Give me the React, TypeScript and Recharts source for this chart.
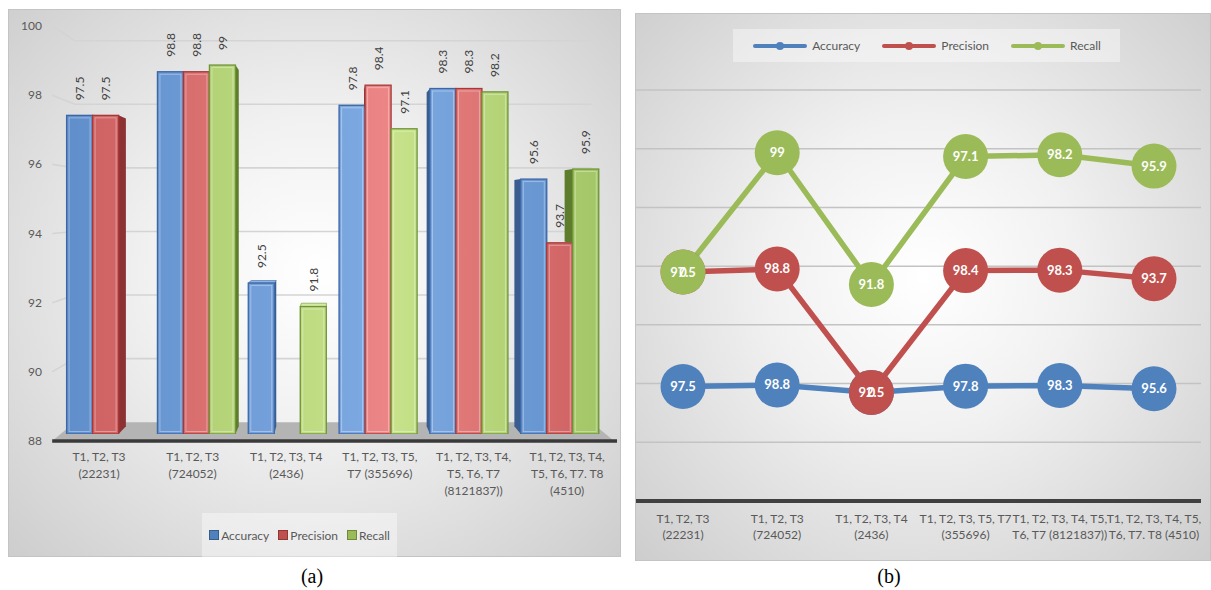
import React from 'react'
import {
  Bar,
  BarChart,
  CartesianGrid,
  LabelList,
  Legend,
  Line,
  LineChart,
  XAxis,
  YAxis,
} from 'recharts'

const categories = [
  'T1, T2, T3 (22231)',
  'T1, T2, T3 (724052)',
  'T1, T2, T3, T4 (2436)',
  'T1, T2, T3, T5, T7 (355696)',
  'T1, T2, T3, T4, T5, T6, T7 (8121837))',
  'T1, T2, T3, T4, T5, T6, T7. T8 (4510)',
]

const barTickLines = [
  ['T1, T2, T3', '(22231)'],
  ['T1, T2, T3', '(724052)'],
  ['T1, T2, T3, T4', '(2436)'],
  ['T1, T2, T3, T5,', 'T7 (355696)'],
  ['T1, T2, T3, T4,', 'T5, T6, T7', '(8121837))'],
  ['T1, T2, T3, T4,', 'T5, T6, T7. T8', '(4510)'],
]

const lineTickLines = [
  ['T1, T2, T3', '(22231)'],
  ['T1, T2, T3', '(724052)'],
  ['T1, T2, T3, T4', '(2436)'],
  ['T1, T2, T3, T5, T7', '(355696)'],
  ['T1, T2, T3, T4, T5,', 'T6, T7 (8121837))'],
  ['T1, T2, T3, T4, T5,', 'T6, T7. T8 (4510)'],
]

// 0 = no value for that split
const accuracy = [97.5, 98.8, 92.5, 97.8, 98.3, 95.6]
const precision = [97.5, 98.8, 0, 98.4, 98.3, 93.7]
const recall = [0, 99, 91.8, 97.1, 98.2, 95.9]

const barTicks = [88, 90, 92, 94, 96, 98, 100]
const lineTicks = [0, 50, 100, 150, 200, 250, 300, 350]

const seriesNames = ['Accuracy', 'Precision', 'Recall']
const seriesValues = [accuracy, precision, recall]

const FONT = 'Lato, "Open Sans", sans-serif'
const TEXT = '#595959'

const barData = categories.map((name, i) => ({
  name,
  Accuracy: accuracy[i] || null,
  Precision: precision[i] || null,
  Recall: recall[i] || null,
}))

const lineData = categories.map((name, i) => ({
  name,
  accStack: accuracy[i],
  precStack: accuracy[i] + precision[i],
  recStack: accuracy[i] + precision[i] + recall[i],
}))

const BAR_STYLE = [
  { edge: '#5f8ecb', mid: '#7eaae2', border: '#3b67a6', side: '#3a5d90', top: '#8fb5e6', key: '#4f81bd', keyBorder: '#385d8a' },
  { edge: '#cc5f5f', mid: '#ec8585', border: '#a63838', side: '#8c3232', top: '#f09a9a', key: '#c0504d', keyBorder: '#8c3836' },
  { edge: '#a2c566', mid: '#c8e38b', border: '#6e9435', side: '#5d7d2c', top: '#d4eaa0', key: '#9bbb59', keyBorder: '#71893f' },
]
const LINE_COLORS = ['#4f81bd', '#c0504d', '#9bbb59']

// fake 3D: vanishing point in chart (a) coordinates
const VP = { x: 325, y: 199 }
const proj = (x: number, y: number, k: number) => ({
  x: VP.x + (x - VP.x) * k,
  y: VP.y + (y - VP.y) * k,
})
const FRONT = 1 / 0.97
const WALL = 0.948
const DEPTH = 0.966
const pts = (list: { x: number; y: number }[]) => list.map((p) => `${p.x},${p.y}`).join(' ')

function Bar3D(props: any) {
  const { x, y, width: w, height: h, payload, series } = props
  if (x == null || !h || h <= 0 || !payload) return null
  const c = BAR_STYLE[series]
  const v = payload[seriesNames[series]]
  const tl = proj(x, y, DEPTH)
  const tr = proj(x + w, y, DEPTH)
  const leftSide = x + w / 2 >= VP.x
  let side = null
  // top of the bar to the left, in pixels (bottom if there is none)
  let ny = y + h
  if (leftSide) {
    const nv = series > 0 ? payload[seriesNames[series - 1]] : null
    if (nv) ny = y + h - ((nv - 88) * h) / (v - 88)
    if (ny > y + 0.5) {
      side = (
        <polygon points={pts([{ x, y }, tl, proj(x, ny, DEPTH), { x, y: ny }])} fill={c.side} />
      )
    }
  } else {
    side = (
      <polygon
        points={pts([{ x: x + w, y }, tr, proj(x + w, y + h, DEPTH), { x: x + w, y: y + h }])}
        fill={c.side}
      />
    )
  }
  // the top face only shows when the bar top sits below the eye line
  const showTop = y > VP.y && (!leftSide || ny > y + 0.5)
  const topFace = showTop ? (
    <polygon points={pts([{ x, y }, { x: x + w, y }, tr, tl])} fill={c.top} stroke={c.border} strokeWidth={0.6} />
  ) : null
  return (
    <g>
      {side}
      {topFace}
      <rect x={x} y={y} width={w} height={h} fill={`url(#barGrad${series})`} stroke={c.border} strokeWidth={1.3} />
      <rect
        x={x + 2.5}
        y={y + 2.5}
        width={Math.max(w - 5, 0)}
        height={Math.max(h - 5, 0)}
        fill="none"
        stroke="rgba(255,255,255,0.35)"
        strokeWidth={1}
      />
    </g>
  )
}

const barLabel = (p: any) => {
  const { x, y, width, value } = p
  if (value == null) return null
  const cx = x + width / 2
  const ty = y - 15
  return (
    <text
      x={cx}
      y={ty}
      transform={`rotate(-90, ${cx}, ${ty})`}
      textAnchor="start"
      dominantBaseline="central"
      fontSize={12}
      fontFamily={FONT}
      fill="#404040"
    >
      {value}
    </text>
  )
}

const barGridLine = (p: any) => {
  const y = p.y1
  const fl = proj(p.x1, y, FRONT)
  const fr = proj(p.x2, y, FRONT)
  const bl = proj(p.x1, y, WALL)
  const br = proj(p.x2, y, WALL)
  if (y > 420) {
    return (
      <g key={p.key}>
        <polygon points={pts([fl, fr, br, bl])} fill="#b4b4b4" />
        <line x1={fl.x} y1={fl.y} x2={fr.x + 3} y2={fr.y} stroke="#3a3a3a" strokeWidth={3.5} />
      </g>
    )
  }
  return <polyline key={p.key} points={pts([fl, bl, br])} fill="none" stroke="#d4d4d4" strokeWidth={1.6} />
}

const barYTick = (p: any) => {
  const fy = proj(0, p.y, FRONT).y
  return (
    <text x={34} y={fy + 4} textAnchor="end" fontSize={12} fontFamily={FONT} fill={TEXT}>
      {p.payload.value}
    </text>
  )
}

const barXTick = (p: any) => {
  const fx = proj(p.x, 0, FRONT).x
  const lines = barTickLines[p.index] || []
  return (
    <text textAnchor="middle" fontSize={12} fontFamily={FONT} fill={TEXT}>
      {lines.map((l, i) => (
        <tspan key={i} x={fx} y={448 + i * 17 + 4}>
          {l}
        </tspan>
      ))}
    </text>
  )
}

const barLegend = () => (
  <div
    style={{
      height: 44,
      background: 'rgba(255,255,255,0.4)',
      display: 'flex',
      alignItems: 'center',
      justifyContent: 'center',
      fontFamily: FONT,
      fontSize: 12,
      color: TEXT,
    }}
  >
    {seriesNames.map((n, i) => (
      <span key={n} style={{ display: 'flex', alignItems: 'center', marginRight: i < 2 ? 9 : 0 }}>
        <span
          style={{
            width: 8,
            height: 8,
            background: BAR_STYLE[i].key,
            border: `1px solid ${BAR_STYLE[i].keyBorder}`,
            marginRight: 2,
          }}
        />
        {n}
      </span>
    ))}
  </div>
)

const lineXTick = (p: any) => {
  const lines = lineTickLines[p.index] || []
  return (
    <text textAnchor="middle" fontSize={12} fontFamily={FONT} fill={TEXT}>
      {lines.map((l, i) => (
        <tspan key={i} x={p.x} y={506 + i * 16 + 4}>
          {l}
        </tspan>
      ))}
    </text>
  )
}

const lineLegend = () => (
  <div style={{ paddingBottom: 28 }}>
    <div
      style={{
        marginLeft: 98,
        width: 387,
        height: 33,
        background: 'rgba(255,255,255,0.4)',
        display: 'flex',
        alignItems: 'center',
        justifyContent: 'center',
        fontFamily: FONT,
        fontSize: 12,
        color: TEXT,
      }}
    >
      {seriesNames.map((n, i) => (
        <span key={n} style={{ display: 'flex', alignItems: 'center', marginRight: i < 2 ? 21 : 0 }}>
          <svg width={56} height={10} style={{ marginRight: 4 }}>
            <line x1={3} y1={5} x2={53} y2={5} stroke={LINE_COLORS[i]} strokeWidth={4} strokeLinecap="round" />
            <circle cx={28} cy={5} r={4} fill={LINE_COLORS[i]} />
          </svg>
          {n}
        </span>
      ))}
    </div>
  </div>
)

const makeDot = (color: string) => (p: any) =>
  <circle key={`dot-${p.index}`} cx={p.cx} cy={p.cy} r={22.5} fill={color} />

const makeCircleLabel = (values: number[]) => (p: any) =>
  (
    <text
      x={p.x}
      y={p.y + 4.5}
      textAnchor="middle"
      fontSize={13}
      fontWeight="bold"
      fontFamily={FONT}
      fill="#ffffff"
    >
      {values[p.index]}
    </text>
  )

const stackKeys = ['accStack', 'precStack', 'recStack']

const panelStyle: React.CSSProperties = {
  position: 'absolute',
  height: 548,
  background: 'radial-gradient(ellipse at 50% 48%, #ffffff 0%, #f1f1f1 38%, #cdcdcd 100%)',
  boxShadow: 'inset 0 0 0 1px #c4c4c4',
}

const captionStyle: React.CSSProperties = {
  position: 'absolute',
  top: 565,
  fontFamily: '"Liberation Serif", "Times New Roman", serif',
  fontSize: 20,
  color: '#000',
  width: 60,
  textAlign: 'center',
}

export default function App() {
  return (
    <div style={{ position: 'absolute', left: 0, top: 0, width: 1211, height: 590, background: '#fff', overflow: 'hidden' }}>
      <svg width={0} height={0} style={{ position: 'absolute' }}>
        <defs>
          {BAR_STYLE.map((c, i) => (
            <linearGradient key={i} id={`barGrad${i}`} gradientUnits="userSpaceOnUse" x1={52} y1={0} x2={598} y2={0}>
              <stop offset="0%" stopColor={c.edge} />
              <stop offset="60%" stopColor={c.mid} />
              <stop offset="100%" stopColor={c.edge} />
            </linearGradient>
          ))}
        </defs>
      </svg>

      <div style={{ ...panelStyle, left: 8, top: 9, width: 613 }}>
        <BarChart
          width={613}
          height={548}
          data={barData}
          margin={{ top: 22.5, right: 15.4, bottom: 0, left: 0 }}
          barSize={26}
          barGap={0}
        >
          <CartesianGrid vertical={false} horizontal={barGridLine} />
          <YAxis
            width={52.6}
            domain={[88, 100]}
            ticks={barTicks}
            axisLine={false}
            tickLine={false}
            tick={barYTick}
            allowDataOverflow
          />
          <XAxis dataKey="name" height={79} axisLine={false} tickLine={false} tick={barXTick} interval={0} />
          <Legend verticalAlign="bottom" content={barLegend} wrapperStyle={{ left: 194, width: 195, bottom: 0 }} />
          {seriesNames.map((n, s) => (
            <Bar
              key={n}
              dataKey={n}
              isAnimationActive={false}
              shape={(p: any) => <Bar3D {...p} series={s} />}
            >
              <LabelList dataKey={n} content={barLabel} />
            </Bar>
          ))}
        </BarChart>
      </div>

      <div style={{ ...panelStyle, left: 635, top: 13, width: 576 }}>
        <LineChart width={576} height={548} data={lineData} margin={{ top: 16, right: 10, bottom: 0, left: 1 }}>
          <CartesianGrid vertical={false} stroke="#c3c3c3" strokeWidth={1.5} />
          <YAxis hide domain={[0, 350]} ticks={lineTicks} />
          <XAxis
            dataKey="name"
            height={60}
            padding={{ left: 47, right: 47 }}
            axisLine={{ stroke: '#404040', strokeWidth: 4 }}
            tickLine={false}
            tick={lineXTick}
            interval={0}
          />
          <Legend verticalAlign="top" content={lineLegend} wrapperStyle={{ left: 0, top: 16, width: 576 }} />
          {stackKeys.map((k, s) => (
            <Line
              key={k}
              dataKey={k}
              name={seriesNames[s]}
              stroke={LINE_COLORS[s]}
              strokeWidth={5.5}
              dot={makeDot(LINE_COLORS[s])}
              activeDot={false}
              isAnimationActive={false}
            />
          ))}
          {stackKeys.map((k, s) => (
            <Line
              key={`${k}-labels`}
              dataKey={k}
              stroke="none"
              dot={false}
              activeDot={false}
              legendType="none"
              isAnimationActive={false}
            >
              <LabelList dataKey={k} content={makeCircleLabel(seriesValues[s])} />
            </Line>
          ))}
        </LineChart>
      </div>

      <div style={{ ...captionStyle, left: 282 }}>(a)</div>
      <div style={{ ...captionStyle, left: 859 }}>(b)</div>
    </div>
  )
}
